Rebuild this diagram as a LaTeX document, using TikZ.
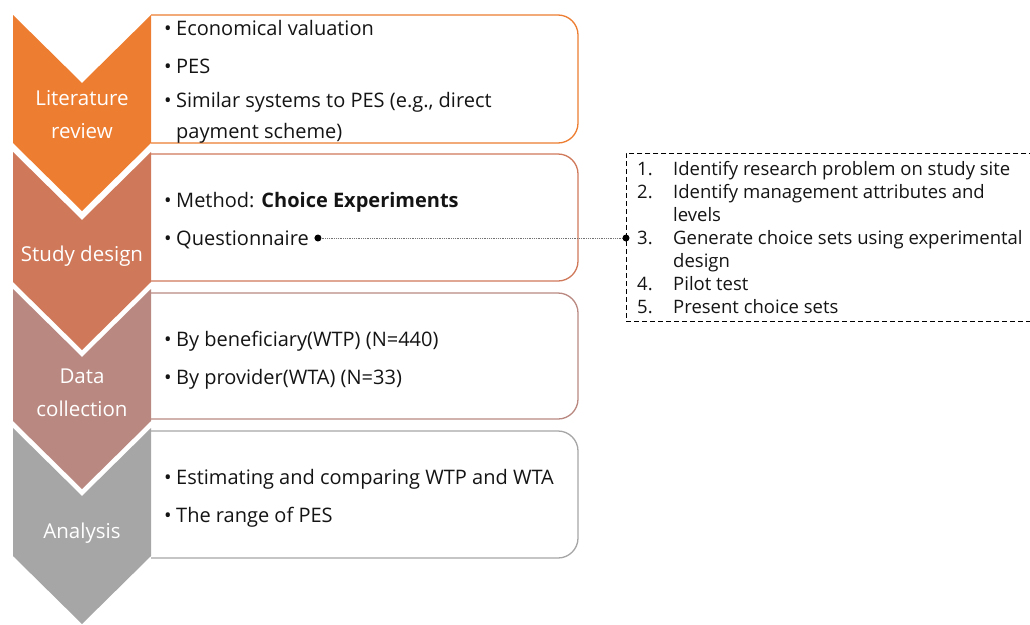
\documentclass[tikz,border=0pt]{standalone}
\usepackage{fontspec}
\setmainfont{Open Sans}
\definecolor{cA}{RGB}{237,125,49}
\definecolor{cB}{RGB}{207,121,90}
\definecolor{cC}{RGB}{185,136,128}
\definecolor{cD}{RGB}{166,166,166}
\definecolor{txt}{RGB}{20,20,20}
\newcommand{\bl}{\makebox[12pt][l]{\textbullet}}
\tikzset{
  boxline/.style={line width=1.3pt, rounded corners=20pt},
  btxt/.style={anchor=mid west, inner sep=0pt, text=txt, font=\fontsize{20}{24}\selectfont},
  clabel/.style={text=white, inner sep=0pt, align=center, font=\fontsize{20.5}{33}\selectfont},
  listbox/.style={draw, dash pattern=on 5pt off 3pt, line width=0.9pt, anchor=north west, inner sep=0pt, minimum width=420pt, minimum height=168pt},
}
\begin{document}
\begin{tikzpicture}[x=1pt,y=-1pt]
\useasboundingbox (0,0) rectangle (1030,624);
% boxes
\draw[boxline, draw=cA] (151,15) -- (578,15) -- (578,143) -- (151,143);
\draw[boxline, draw=cB] (151,154) -- (578,154) -- (578,281) -- (151,281);
\draw[boxline, draw=cC] (151,293) -- (578,293) -- (578,419) -- (151,419);
\draw[boxline, draw=cD] (151,431) -- (578,431) -- (578,558) -- (151,558);
% chevrons
\fill[cA] (13,15) -- (82,83) -- (151,15) -- (151,143) -- (82,211) -- (13,143) -- cycle;
\fill[cB] (13,152) -- (82,220) -- (151,152) -- (151,282) -- (82,350) -- (13,282) -- cycle;
\fill[cC] (13,289) -- (82,357) -- (151,289) -- (151,421) -- (82,489) -- (13,421) -- cycle;
\fill[cD] (13,428) -- (82,496) -- (151,428) -- (151,556) -- (82,624) -- (13,556) -- cycle;
% chevron labels
\node[clabel] (l1) at (82,114.5) {Literature\\review};
\node[clabel, anchor=mid] (l2) at (82,258.5) {Study design};
\node[clabel] (l3) at (82,392.5) {Data\\collection};
\node[clabel, anchor=mid] (l4) at (82,535.5) {Analysis};
% box texts
\node[btxt] (b1a) at (164,32.5) {\bl Economical valuation};
\node[btxt] (b1b) at (164,71) {\bl PES};
\node[btxt] (b1c) at (164,105) {\bl Similar systems to PES (e.g., direct};
\node[btxt] (b1d) at (176,136) {payment scheme)};
\node[btxt] (b2a) at (164,205) {\bl Method: \textbf{Choice Experiments}};
\node[btxt] (b2b) at (164,243) {\bl Questionnaire};
\node[btxt] (b3a) at (164,344) {\bl By beneficiary(WTP) (N=440)};
\node[btxt] (b3b) at (164,382) {\bl By provider(WTA) (N=33)};
\node[btxt] (b4a) at (164,482) {\bl Estimating and comparing WTP and WTA};
\node[btxt] (b4b) at (164,520) {\bl The range of PES};
% list box
\node[listbox] (lbox) at (626,153) {};
\node[anchor=north west, inner sep=0pt, text=txt, font=\fontsize{18.5}{23}\selectfont] (list) at (637,159)
{\begin{tabular}{@{}p{36pt}@{}l@{}}
1. & Identify research problem on study site\\
2. & Identify management attributes and\\
   & levels\\
3. & Generate choice sets using experimental\\
   & design\\
4. & Pilot test\\
5. & Present choice sets
\end{tabular}};
% connector
\path (b2b.mid east) ++(9,-5) coordinate (qd);
\coordinate (ld) at (lbox.west |- qd);
\draw[densely dotted, line width=0.8pt, black!55] (qd) -- (ld);
\fill[black] (qd) circle (3.5pt);
\fill[black] (ld) circle (3.5pt);
\end{tikzpicture}
\end{document}
